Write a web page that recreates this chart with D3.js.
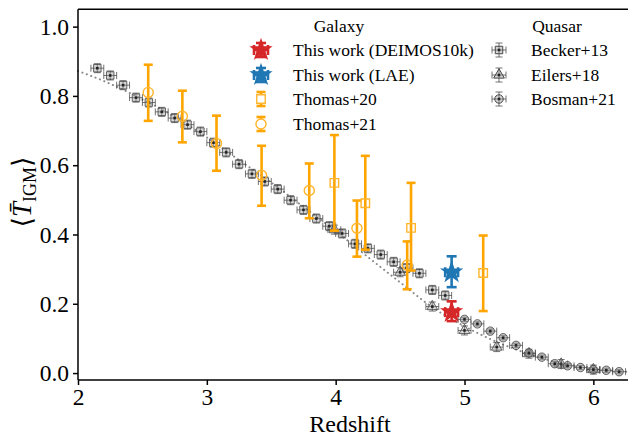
<!doctype html>
<html>
<head>
<meta charset="utf-8">
<title>Mean IGM transmission vs redshift</title>
<script src="https://d3js.org/d3.v7.min.js"></script>
<style>
    body {margin:0; background:#fff;}
    svg {display:block;}
    svg text {font-family:"Liberation Serif", "Times New Roman", "DejaVu Serif", serif !important;}
    .axis path, .axis line {stroke:#000; stroke-width:1.5px;}
    .axis text {font-size:23.5px; fill:#000;}
    .leg text {font-size:17.5px; fill:#000;}
</style>
</head>
<body>
<script>
"use strict";
// ---- data ----
var beckerZ = [2.15, 2.25, 2.35, 2.45, 2.55, 2.65, 2.75, 2.85, 2.95, 3.05, 3.15, 3.25, 3.35, 3.45,
               3.55, 3.65, 3.75, 3.85, 3.95, 4.05, 4.15, 4.25, 4.35, 4.45, 4.55, 4.65, 4.75, 4.85];
var beckerT = [0.880, 0.859, 0.831, 0.795, 0.781, 0.754, 0.736, 0.717, 0.697, 0.665, 0.637, 0.603, 0.575, 0.553,
               0.531, 0.499, 0.471, 0.446, 0.424, 0.403, 0.373, 0.360, 0.342, 0.321, 0.303, 0.288, 0.240, 0.224];

var eilersZ = [3.99, 4.50, 4.75, 5.00, 5.25, 5.50, 5.75, 6.00];
var eilersT = [0.414, 0.291, 0.192, 0.123, 0.075, 0.056, 0.026, 0.010];

var bosmanZ = [5.00, 5.10, 5.20, 5.30, 5.40, 5.50, 5.60, 5.70, 5.80, 5.90, 6.00, 6.10, 6.20];
var bosmanT = [0.155, 0.142, 0.121, 0.102, 0.080, 0.058, 0.046, 0.027, 0.021, 0.016, 0.010, 0.008, 0.004];

var thomas20Z  = [3.99, 4.23, 4.585, 5.145];
var thomas20T  = [0.549, 0.490, 0.419, 0.289];
var thomas20Lo = [0.411, 0.356, 0.296, 0.179];
var thomas20Hi = [0.687, 0.627, 0.549, 0.397];

var thomas21Z  = [2.545, 2.81, 3.075, 3.425, 3.795, 4.165, 4.555];
var thomas21T  = [0.810, 0.741, 0.663, 0.571, 0.527, 0.418, 0.312];
var thomas21Lo = [0.728, 0.666, 0.584, 0.483, 0.447, 0.336, 0.242];
var thomas21Hi = [0.890, 0.815, 0.743, 0.656, 0.605, 0.498, 0.380];

var deimosZ = [4.90], deimosT = [0.176], deimosLo = [0.150], deimosHi = [0.207];
var laeZ = [4.90], laeT = [0.291], laeLo = [0.248], laeHi = [0.337];

var modelZ = [2.0, 2.25, 2.5, 2.75, 3.0, 3.25, 3.5, 3.75, 4.0, 4.25, 4.5, 4.75, 5.0, 5.25, 5.5, 5.75, 6.0, 6.3];
var modelT = [0.872, 0.835, 0.790, 0.740, 0.680, 0.615, 0.550, 0.480, 0.410, 0.335, 0.262, 0.190, 0.135, 0.090, 0.055, 0.028, 0.012, 0.003];

var xTicks = [2, 3, 4, 5, 6];
var yTicks = [0.0, 0.2, 0.4, 0.6, 0.8, 1.0];

// ---- layout ----
var W = 628, H = 437;
var x = d3.scaleLinear().domain([2, 6.3]).range([78, 632]);
var y = d3.scaleLinear().domain([-0.02, 1.05]).range([380, 9.3]);

var svg = d3.select("body").append("svg").attr("width", W).attr("height", H);

function zip(zs, ts, lo, hi) {
    return zs.map(function(z, i) {
        return {z: z, t: ts[i], lo: lo ? lo[i] : null, hi: hi ? hi[i] : null};
    });
}

// model curve
var line = d3.line().curve(d3.curveMonotoneX)
    .x(function(d) { return x(d.z); }).y(function(d) { return y(d.t); });
svg.append("path").datum(zip(modelZ, modelT))
    .attr("d", line).attr("fill", "none")
    .attr("stroke", "#888").attr("stroke-width", 2)
    .attr("stroke-dasharray", "0.1,4.6").attr("stroke-linecap", "round");

// error bar + marker drawing
function errbars(g, pts, o) {
    pts.forEach(function(d) {
        var px = x(d.z), py = y(d.t);
        var y0 = o.yerr != null ? y(d.t - o.yerr) : y(d.lo);
        var y1 = o.yerr != null ? y(d.t + o.yerr) : y(d.hi);
        var e = g.append("g").attr("stroke", o.color).attr("stroke-width", o.lw)
            .attr("stroke-opacity", o.opacity || 1);
        e.append("line").attr("x1", px).attr("x2", px).attr("y1", y0).attr("y2", y1);
        e.append("line").attr("x1", px - o.cap).attr("x2", px + o.cap).attr("y1", y0).attr("y2", y0);
        e.append("line").attr("x1", px - o.cap).attr("x2", px + o.cap).attr("y1", y1).attr("y2", y1);
        if (o.xerr) {
            var x0 = x(d.z - o.xerr), x1 = x(d.z + o.xerr);
            e.append("line").attr("x1", x0).attr("x2", x1).attr("y1", py).attr("y2", py);
            e.append("line").attr("x1", x0).attr("x2", x0).attr("y1", py - o.cap).attr("y2", py + o.cap);
            e.append("line").attr("x1", x1).attr("x2", x1).attr("y1", py - o.cap).attr("y2", py + o.cap);
        }
    });
}

function markers(g, pts, o) {
    g.selectAll(null).data(pts).enter().append("path")
        .attr("transform", function(d) { return "translate(" + x(d.z) + "," + y(d.t) + ")"; })
        .attr("d", d3.symbol().type(o.type).size(o.size))
        .attr("fill", o.fill).attr("fill-opacity", o.fillOpacity == null ? 1 : o.fillOpacity)
        .attr("stroke", o.stroke).attr("stroke-width", o.sw)
        .attr("stroke-opacity", o.strokeOpacity || 1);
    if (o.dot) {
        g.selectAll(null).data(pts).enter().append("rect")
            .attr("x", function(d) { return x(d.z) - 1.3; })
            .attr("y", function(d) { return y(d.t) - 1.3; })
            .attr("width", 2.6).attr("height", 2.6).attr("fill", "#222");
    }
}

var qStyle = {color: "#444", lw: 1, cap: 3.5, opacity: 0.75};
var gq = svg.append("g");

var becker = zip(beckerZ, beckerT);
errbars(gq, becker, Object.assign({}, qStyle, {yerr: 0.013, xerr: 0.05}));
markers(gq, becker, {type: d3.symbolSquare, size: 56, fill: "#999", fillOpacity: 0.4,
    stroke: "#444", sw: 1, strokeOpacity: 0.8, dot: true});

var eilers = zip(eilersZ, eilersT);
errbars(gq, eilers, Object.assign({}, qStyle, {yerr: 0.013, xerr: 0.05}));
markers(gq, eilers, {type: d3.symbolTriangle, size: 50, fill: "#999", fillOpacity: 0.4,
    stroke: "#444", sw: 1, strokeOpacity: 0.8, dot: true});

var bosman = zip(bosmanZ, bosmanT);
errbars(gq, bosman, Object.assign({}, qStyle, {yerr: 0.006, xerr: 0.05}));
markers(gq, bosman, {type: d3.symbolCircle, size: 56, fill: "#999", fillOpacity: 0.55,
    stroke: "#444", sw: 1, strokeOpacity: 0.8, dot: true});

// galaxy measurements
var orange = "#ffa500";
var gg = svg.append("g");
var th21 = zip(thomas21Z, thomas21T, thomas21Lo, thomas21Hi);
errbars(gg, th21, {color: orange, lw: 2.6, cap: 4.5});
markers(gg, th21, {type: d3.symbolCircle, size: 80, fill: "none", stroke: "#ffb52e", sw: 1.4});

var th20 = zip(thomas20Z, thomas20T, thomas20Lo, thomas20Hi);
errbars(gg, th20, {color: orange, lw: 2.6, cap: 4.5});
markers(gg, th20, {type: d3.symbolSquare, size: 72, fill: "none", stroke: "#ffb52e", sw: 1.4});

var lae = zip(laeZ, laeT, laeLo, laeHi);
errbars(gg, lae, {color: "#1f77b4", lw: 2.6, cap: 5, xerr: 0.05});
markers(gg, lae, {type: d3.symbolStar, size: 120, fill: "#1f77b4", stroke: "#1f77b4", sw: 1.2});

var deimos = zip(deimosZ, deimosT, deimosLo, deimosHi);
errbars(gg, deimos, {color: "#d62728", lw: 2.6, cap: 5, xerr: 0.05});
markers(gg, deimos, {type: d3.symbolStar, size: 120, fill: "#d62728", stroke: "#d62728", sw: 1.2});

// ---- axes ----
svg.append("line").attr("x1", x(2)).attr("x2", W).attr("y1", y(1.05)).attr("y2", y(1.05))
    .attr("stroke", "#000").attr("stroke-width", 1.5);

svg.append("g").attr("class", "axis").attr("transform", "translate(0," + y(-0.02) + ")")
    .call(d3.axisBottom(x).tickValues(xTicks).tickFormat(d3.format("d")).tickSize(5).tickPadding(3))
    .call(function(g) { g.select(".domain").attr("d", "M" + x(2) + ",0H" + W); });

svg.append("g").attr("class", "axis").attr("transform", "translate(" + x(2) + ",0)")
    .call(d3.axisLeft(y).tickValues(yTicks).tickFormat(d3.format(".1f")).tickSize(5).tickPadding(4))
    .call(function(g) { g.select(".domain").attr("d", "M0," + y(1.05) + "V" + y(-0.02)); });

svg.append("text").attr("x", 350).attr("y", 431.7).attr("text-anchor", "middle")
    .style("font-size", "24px").text("Redshift");

var yl = svg.append("text").attr("transform", "translate(31,192) rotate(-90)")
    .attr("text-anchor", "middle").style("font-size", "27px");
yl.append("tspan").text("\u27E8");
yl.append("tspan").style("font-style", "italic").text("T\u0304");
yl.append("tspan").attr("dy", 5).style("font-size", "18px").text("IGM");
yl.append("tspan").attr("dy", -5).text("\u27E9");

// ---- legend ----
var leg = svg.append("g").attr("class", "leg");
var rowY = [50, 75, 99, 124];

leg.append("text").attr("x", 339).attr("y", 32).attr("text-anchor", "middle").text("Galaxy");
leg.append("text").attr("x", 557).attr("y", 32).attr("text-anchor", "middle").text("Quasar");

function legItem(mx, ty, label, draw) {
    var g = leg.append("g").attr("transform", "translate(" + mx + "," + ty + ")");
    draw(g);
    leg.append("text").attr("x", mx + 32).attr("y", ty + 6).text(label);
}
function legBars(g, color, lw, cap, horiz, opacity) {
    var e = g.append("g").attr("stroke", color).attr("stroke-width", lw).attr("stroke-opacity", opacity || 1);
    e.append("line").attr("y1", -7).attr("y2", 7);
    e.append("line").attr("x1", -cap).attr("x2", cap).attr("y1", -7).attr("y2", -7);
    e.append("line").attr("x1", -cap).attr("x2", cap).attr("y1", 7).attr("y2", 7);
    if (horiz) {
        e.append("line").attr("x1", -7).attr("x2", 7);
        e.append("line").attr("x1", -7).attr("x2", -7).attr("y1", -cap).attr("y2", cap);
        e.append("line").attr("x1", 7).attr("x2", 7).attr("y1", -cap).attr("y2", cap);
    }
}
function legSym(g, type, size, fill, stroke, sw, fo) {
    g.append("path").attr("d", d3.symbol().type(type).size(size))
        .attr("fill", fill).attr("fill-opacity", fo == null ? 1 : fo)
        .attr("stroke", stroke).attr("stroke-width", sw);
}

legItem(261, rowY[0], "This work (DEIMOS10k)", function(g) {
    legBars(g, "#d62728", 2.6, 5, true); legSym(g, d3.symbolStar, 120, "#d62728", "#d62728", 1.2);
});
legItem(261, rowY[1], "This work (LAE)", function(g) {
    legBars(g, "#1f77b4", 2.6, 5, true); legSym(g, d3.symbolStar, 120, "#1f77b4", "#1f77b4", 1.2);
});
legItem(261, rowY[2], "Thomas+20", function(g) {
    legBars(g, orange, 2.6, 4.5, false); legSym(g, d3.symbolSquare, 72, "#fff", "#ffb52e", 1.4);
});
legItem(261, rowY[3], "Thomas+21", function(g) {
    legBars(g, orange, 2.6, 4.5, false); legSym(g, d3.symbolCircle, 80, "#fff", "#ffb52e", 1.4);
});

function quasarLeg(type, size) {
    return function(g) {
        legBars(g, "#444", 1, 3.5, true, 0.75);
        legSym(g, type, size, "#999", "#444", 1, 0.4);
        g.append("rect").attr("x", -1.3).attr("y", -1.3).attr("width", 2.6).attr("height", 2.6).attr("fill", "#222");
    };
}
legItem(499, rowY[0], "Becker+13", quasarLeg(d3.symbolSquare, 56));
legItem(499, rowY[1], "Eilers+18", quasarLeg(d3.symbolTriangle, 50));
legItem(499, rowY[2], "Bosman+21", quasarLeg(d3.symbolCircle, 56));
</script>
</body>
</html>
